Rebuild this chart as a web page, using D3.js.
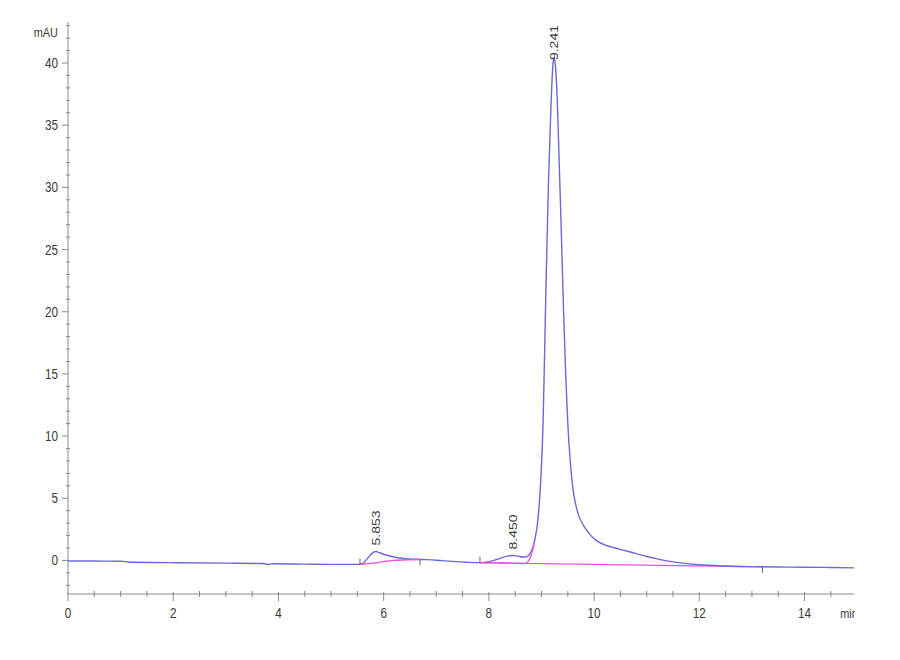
<!DOCTYPE html>
<html><head><meta charset="utf-8">
<script src="https://cdn.jsdelivr.net/npm/d3@7"></script>
<style>
html,body{margin:0;padding:0;background:#fff;}
svg{display:block;font-family:"Liberation Sans",Arial,sans-serif;}
</style></head>
<body>
<svg id="c" width="900" height="660"></svg>
<script>
// ---- data ----
const traceTime = [0,0.5,1.0,1.1,1.2,2,3,3.7,3.8,3.9,4.5,5.0,5.5,5.6,5.7,5.8,5.853,5.9,6.0,6.1,6.2,6.35,6.5,6.7,7.0,7.3,7.6,7.83,8.0,8.2,8.35,8.45,8.55,8.65,8.72,8.78,8.83,8.88,8.93,8.98,9.03,9.08,9.13,9.18,9.22,9.241,9.26,9.3,9.34,9.38,9.42,9.46,9.5,9.55,9.6,9.65,9.7,9.8,9.9,10.0,10.1,10.2,10.4,10.6,10.8,11.0,11.2,11.5,12.0,12.5,13.0,13.5,14.0,14.5,14.94];
const traceValue = [-0.05,-0.05,-0.07,-0.1,-0.15,-0.18,-0.22,-0.25,-0.32,-0.27,-0.3,-0.32,-0.32,-0.25,0.2,0.65,0.72,0.65,0.5,0.38,0.28,0.18,0.12,0.08,0.02,-0.08,-0.15,-0.18,-0.1,0.15,0.35,0.4,0.35,0.28,0.3,0.55,1.0,1.8,3.2,6.0,11,21,30,36.5,40.0,40.4,40.0,37,31.5,26,20,15,11,7.8,5.7,4.5,3.7,2.8,2.2,1.75,1.45,1.25,1.0,0.78,0.55,0.32,0.12,-0.12,-0.35,-0.45,-0.5,-0.53,-0.55,-0.57,-0.6];

const baseline1Time = [5.55,5.8,6.0,6.2,6.45,6.7];
const baseline1Value = [-0.32,-0.22,-0.1,0.0,0.06,0.08];
const baseline2Time = [7.83,8.1,8.4,8.68,8.75,8.8,8.86];
const baseline2Value = [-0.18,-0.2,-0.22,-0.25,-0.05,0.4,1.3];
const baseline3Time = [7.83,13.2];
const baseline3Value = [-0.18,-0.52];

const markerTime = [5.55,6.69,7.83,13.2];
const markerValue = [-0.32,0.08,-0.18,-0.52];
const markerDir = [1,-1,1,-1];

const peakTime = [5.853,8.450,9.241];
const peakValue = [0.72,0.4,40.4];
const peakLabel = ["5.853","8.450","9.241"];

const xTickLabels = [0,2,4,6,8,10,12,14];
const yTickLabels = [0,5,10,15,20,25,30,35,40];
const xDomain = [0,14.94];
const yDomain = [-2.7,43.3];
const xUnit = "min";
const yUnit = "mAU";

// ---- drawing ----
const svg = d3.select("#c");
const x = d3.scaleLinear().domain(xDomain).range([68,854]);
const y = d3.scaleLinear().domain(yDomain).range([594,22]);
const axisCol = "#8a8a8a", textCol = "#3a3a3a";
const SX = 0.84;

function txt(g, s, px, py, anchor, size){
  return g.append("text").attr("transform",`translate(${px},${py}) scale(${SX},1)`)
    .attr("text-anchor",anchor).attr("font-size",size).attr("fill",textCol).text(s);
}

// x axis
const gx = svg.append("g");
gx.append("line").attr("x1",x(0)).attr("x2",x(xDomain[1])).attr("y1",594).attr("y2",594).attr("stroke",axisCol);
d3.range(0.5,xDomain[1],0.5).forEach(t=>{
  if (Math.abs(t - Math.round(t/2)*2) < 1e-6) return;
  gx.append("line").attr("x1",x(t)).attr("x2",x(t)).attr("y1",591).attr("y2",597).attr("stroke",axisCol);
});
xTickLabels.forEach(t=>{
  gx.append("line").attr("x1",x(t)).attr("x2",x(t)).attr("y1",592).attr("y2",601).attr("stroke",axisCol);
  txt(gx, t, x(t), 618, "middle", 14);
});
svg.append("clipPath").attr("id","uclip").append("rect").attr("x",0).attr("y",0).attr("width",855).attr("height",660);
txt(svg.append("g").attr("clip-path","url(#uclip)"), xUnit, 849, 618, "middle", 13);

// y axis
const gy = svg.append("g");
gy.append("line").attr("x1",68).attr("x2",68).attr("y1",y(yDomain[1])).attr("y2",594).attr("stroke",axisCol);
d3.range(-2,44,1).forEach(v=>{
  if (v % 5 === 0) return;
  gy.append("line").attr("x1",66).attr("x2",70).attr("y1",y(v)).attr("y2",y(v)).attr("stroke",axisCol);
});
yTickLabels.forEach(v=>{
  gy.append("line").attr("x1",62).attr("x2",68).attr("y1",y(v)).attr("y2",y(v)).attr("stroke",axisCol);
  txt(gy, v, 58, y(v)+5, "end", 14);
});
txt(gy, yUnit, 58, 37, "end", 13);

// traces
const line = d3.line().x(d=>x(d[0])).y(d=>y(d[1])).curve(d3.curveMonotoneX);
const zip = (a,b)=>a.map((t,i)=>[t,b[i]]);
const magenta = "#f050dc", blue = "#6a6ad6";
svg.append("path").datum(zip(baseline3Time,baseline3Value)).attr("d",d3.line().x(d=>x(d[0])).y(d=>y(d[1])))
  .attr("fill","none").attr("stroke",magenta).attr("stroke-width",1.4);
svg.append("path").datum(zip(traceTime,traceValue)).attr("d",line)
  .attr("fill","none").attr("stroke",blue).attr("stroke-width",1.4);
[[baseline1Time,baseline1Value],[baseline2Time,baseline2Value]].forEach(([t,v])=>{
  svg.append("path").datum(zip(t,v)).attr("d",line)
    .attr("fill","none").attr("stroke",magenta).attr("stroke-width",1.4);
});
markerTime.forEach((t,i)=>{
  svg.append("line").attr("x1",x(t)).attr("x2",x(t))
    .attr("y1",y(markerValue[i])).attr("y2",y(markerValue[i]) - markerDir[i]*6)
    .attr("stroke","#666").attr("stroke-width",1);
});

// peak labels
peakTime.forEach((t,i)=>{
  const t0 = svg.append("text").attr("font-size",14).attr("fill",textCol).text(peakLabel[i]);
  const len = t0.node().getComputedTextLength();
  const bottom = Math.max(y(peakValue[i]) - 6, 25 + len);
  t0.attr("transform",`translate(${x(t)+4},${bottom}) scale(${SX},1) rotate(-90)`);
});
</script>
</body></html>
